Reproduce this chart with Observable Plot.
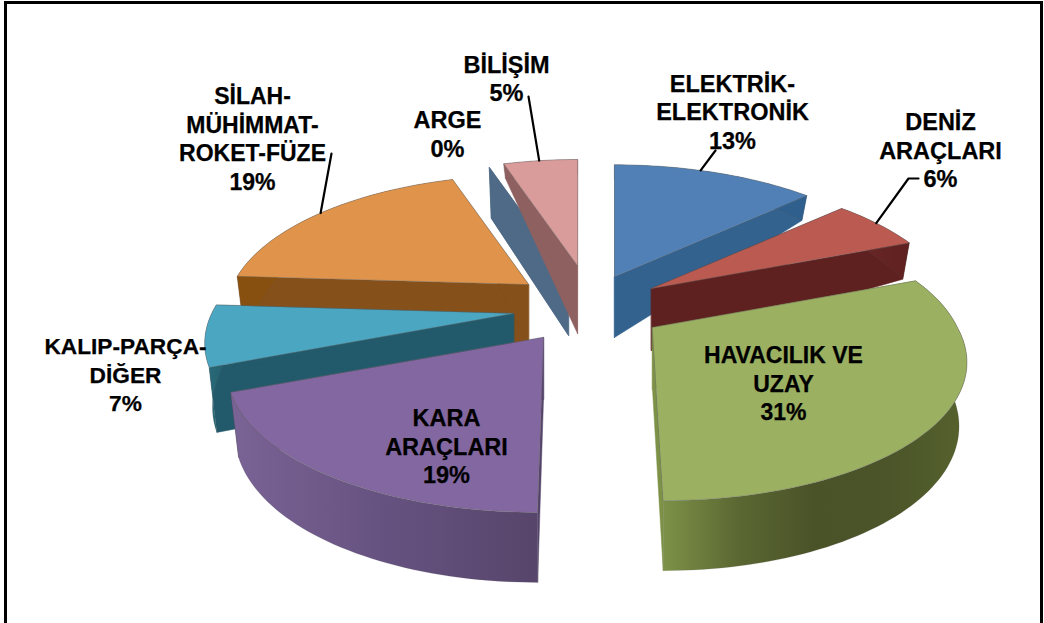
<!DOCTYPE html>
<html><head><meta charset="utf-8">
<script src="https://cdn.jsdelivr.net/npm/d3@7"></script>
<script src="https://cdn.jsdelivr.net/npm/@observablehq/plot@0.6"></script>
<style>html,body{margin:0;padding:0;background:#fff;overflow:hidden}svg{display:block}</style>
</head><body><div id="chart"></div>
<script>
const categories = ["ELEKTRİK-\nELEKTRONİK","DENİZ\nARAÇLARI","HAVACILIK VE\nUZAY","KARA\nARAÇLARI","KALIP-PARÇA-\nDİĞER","SİLAH-\nMÜHİMMAT-\nROKET-FÜZE","ARGE","BİLİŞİM"];
const values = [13,6,31,19,7,19,0,5];

// Styling of each slice, in category order (wall gradients run left to right)
const topColors = ["#5080b6","#bb5a50","#9bb060","#8367a0","#4aa6c1","#e0944b","#4f6a86","#d99c9b"];
const wallColors = [["#33628f","#2f5f8c"],["#6e2a2a","#5f2020"],["#7d9147","#5a6732","#4a5228","#4b5529","#56622d"],["#7a6395","#665280","#57456b"],["#2a6a7a","#25626f"],["#87500f","#8a5218"],["#4f6a86","#4f6a86"],["#8f6060","#8f6060"]];
const radialColors = ["#33628f","#5f2020","#7d9147","#55446a","#225a6c","#85501a","#4f6a86","#8f6060"];
// Explosion layout: where each slice's apex lands, plus 3D tweaks
const explodeX = [614,651,652,543,513,528,568,577];
const explodeY = [276,288,327,337,313,284,276,265];
const radiusK  = [.98,.97,.99,1,.98,.96,1,.93];
const skew     = [0,0,11,-6,0,0,0,0];
const apexDepth= [61,62,62,62,62,62,59,68];
const rimDepthFixed = [null,null,null,null,null,null,51,15];
// Leaders: [slice index, label-side x, label-side y, rim angle in degrees, optional elbow x]
const leaders = [[0,715,150,20],[1,918,178,57,908],[5,331,153,307.5],[7,528,96,350.7]];
const labelX = [732,940,783,446,125,252,447,506];
const labelY = [110.5,149,382,445,373,137.5,133,77.5];
const labelSize = [23.5,23.5,23,23.5,22.7,23,23.5,23.5];

const R=308, K=138, P=0.211;
const depthAt=d3.scaleLinear().domain([-1,-.68,-.375,0,.375,1]).range([15,25,36,62,65,70]);
const arcs=d3.pie().sort(null).value(d=>d)(values);
const deg=Math.PI/180;
function rim(i,t){
  const X=Math.sin(t),Y=-Math.cos(t),w=1-P*Y,k=radiusK[i];
  return {x:explodeX[i]+k*R*X/w+skew[i]*Math.max(Y,0),y:explodeY[i]+k*K*Y/w,Y};
}
function low(i,t){
  const p=rim(i,t),d=rimDepthFixed[i]??depthAt(p.Y);
  return {x:explodeX[i]+(p.x-explodeX[i])*.975,y:p.y+d};
}
const gradients=()=>{
  const defs=d3.create("svg:defs");
  wallColors.forEach((stops,i)=>{
    const g=defs.append("linearGradient").attr("id",`wall${i}`);
    stops.forEach((c,j)=>g.append("stop").attr("offset",j/(stops.length-1)).attr("stop-color",c));
  });
  return defs.node();
};
const drawOrder=[6,7,0,1,2,5,4,3];
const marks=[gradients];
const lineOpts={x:"x",y:"y",curve:"linear-closed"};
for(const i of drawOrder){
  const a=arcs[i].startAngle,b=arcs[i].endAngle,ax={x:explodeX[i],y:explodeY[i]},az={x:explodeX[i],y:explodeY[i]+apexDepth[i]};
  marks.push(Plot.line([ax,rim(i,a),low(i,a),az],{...lineOpts,fill:radialColors[i],stroke:radialColors[i],strokeWidth:.5}));
  marks.push(Plot.line([ax,rim(i,b),low(i,b),az],{...lineOpts,fill:radialColors[i],stroke:radialColors[i],strokeWidth:.5}));
  if(b>a){
    const n=Math.max(2,Math.ceil((b-a)/(1.5*deg))),ts=d3.range(n+1).map(j=>a+(b-a)*j/n);
    const wall=[...ts.map(t=>rim(i,t)),...ts.slice().reverse().map(t=>low(i,t))];
    marks.push(Plot.line(wall,{...lineOpts,fill:`url(#wall${i})`,stroke:"#555",strokeOpacity:.25,strokeWidth:.6}));
    marks.push(Plot.line([ax,...ts.map(t=>rim(i,t))],{...lineOpts,fill:topColors[i],stroke:"#6b6b6b",strokeOpacity:.4,strokeWidth:1}));
  }
}
const leaderPts=leaders.flatMap(([i,x,y,t,ex],n)=>{
  const e=rim(i,t*deg),pts=[{n,x,y}];
  if(ex!==undefined)pts.push({n,x:ex,y});
  pts.push({n,x:e.x,y:e.y});
  return pts;
});
marks.push(Plot.line(leaderPts,{x:"x",y:"y",z:"n",stroke:"#000",strokeWidth:2.2}));
categories.forEach((c,i)=>{
  marks.push(Plot.text([{text:`${c}\n${values[i]}%`,x:labelX[i],y:labelY[i]}],{x:"x",y:"y",text:"text",fontFamily:"Liberation Sans",fontWeight:"bold",fontSize:labelSize[i],fill:"#000",stroke:"#000",strokeWidth:.25,lineHeight:28.5/labelSize[i],lineAnchor:"middle",textAnchor:"middle"}));
});
marks.push(Plot.frame({stroke:"#000",strokeWidth:3,insetLeft:5,insetTop:2,insetRight:3,insetBottom:-6}));
const chart=Plot.plot({width:1044,height:623,margin:0,
  x:{domain:[0,1044],range:[0,1044],axis:null},
  y:{domain:[0,623],range:[0,623],axis:null},
  style:{background:"#fff"},marks});
document.getElementById("chart").append(chart);
</script></body></html>
